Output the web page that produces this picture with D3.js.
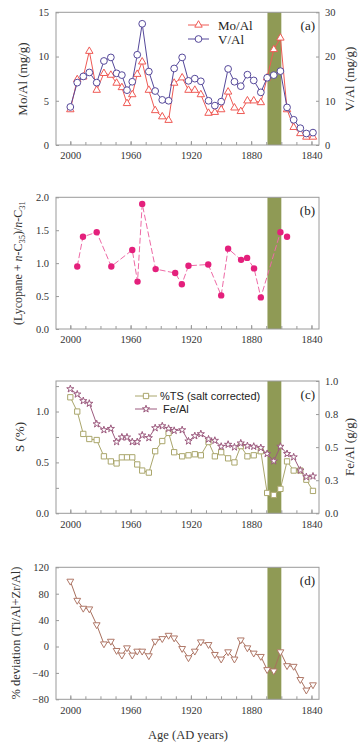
<!DOCTYPE html>
<html><head><meta charset="utf-8">
<script src="https://cdn.jsdelivr.net/npm/d3@7"></script>
<style>
html,body{margin:0;padding:0;background:#fff;}
svg{display:block;}
</style></head>
<body><svg id="c" width="361" height="746"></svg>
<script>
// ---------- DATA ----------
const ageYears = [2000,1995.4,1991.4,1987.4,1982.5,1977.7,1973.1,1969.3,1965.8,1962.4,1958.9,1955.6,1952.3,1947.9,1943.7,1939.0,1934.8,1931.1,1925.8,1921.6,1917.4,1913.4,1908.3,1904.1,1899.9,1895.3,1891.1,1886.9,1882.5,1878.3,1873.6,1869.4,1865.0,1860.6,1856.2,1851.8,1847.4,1843.4,1839.0];
const moAl = [4.0,7.4,7.7,10.6,6.2,8.1,7.9,7.0,6.5,4.7,5.7,8.0,9.4,6.2,3.9,3.2,2.8,7.0,7.6,6.2,6.2,5.7,3.6,3.7,4.0,6.0,4.2,3.8,5.0,5.0,4.8,7.6,10.8,12.1,4.0,2.0,1.3,0.9,0.9];
const vAl = [8.6,14.1,15.5,16.4,14.1,19.0,19.8,16.2,15.8,12.4,14.3,20.4,27.4,16.6,12.2,10.2,10.0,17.3,19.8,14.5,15.0,14.4,10.0,8.9,9.8,17.2,14.3,13.3,15.9,14.6,11.9,15.2,15.8,16.7,8.5,5.7,3.8,2.6,2.8];
const lycYears = [1995.4,1991.6,1982.5,1972.8,1958.9,1955.4,1952.3,1943.4,1930.4,1926.0,1921.6,1908.5,1899.9,1895.3,1886.7,1882.7,1878.1,1873.6,1860.6,1856.2];
const lycRatio = [0.95,1.40,1.47,0.95,1.20,0.72,1.90,0.91,0.85,0.68,0.96,0.98,0.51,1.22,1.05,1.08,0.92,0.48,1.47,1.40];
const tsS = [1.14,1.00,0.78,0.73,0.72,0.56,0.51,0.49,0.55,0.55,0.55,0.48,0.42,0.40,0.61,0.71,0.79,0.60,0.56,0.57,0.58,0.57,0.70,0.56,0.60,0.54,0.50,0.66,0.56,0.57,0.61,0.20,0.18,0.24,0.51,0.42,0.42,0.33,0.22];
const feAl = [0.94,0.90,0.85,0.83,0.675,0.63,0.64,0.54,0.575,0.575,0.54,0.54,0.59,0.57,0.645,0.66,0.64,0.625,0.63,0.545,0.585,0.60,0.56,0.55,0.505,0.52,0.50,0.53,0.51,0.505,0.495,0.45,0.395,0.505,0.45,0.425,0.325,0.275,0.28];
const devTiZr = [99,70,58,57,33,4,8,-6,-13,-2,-13,-7,-7,-14,8,12,17,13,-3,-17,-7,7,3,-12,-19,-8,-19,10,-2,-10,-15,-35,-37,-8,-29,-30,-50,-66,-58];
const bandYears = [1869.2, 1860.0];
const xTickLabels = [2000,1960,1920,1880,1840];
const xMinorTicks = d3.range(1840, 2001, 10);
const ticksA = [0,5,10,15], ticksA2 = [0,10,20,30];
const ticksB = [0,0.5,1.0,1.5,2.0];
const ticksC = [0,0.25,0.5,0.75,1.0,1.25], ticksCLabels = [0,0.5,1.0];
const ticksC2 = [0,0.25,0.5,0.75,1.0], ticksC2Labels = ["0.0","0.3","0.5","0.8","1.0"];
const ticksD = [-80,-40,0,40,80,120];

// ---------- LAYOUT ----------
const svg = d3.select("#c");
const L = 56, R = 319;
const serif = "'Liberation Serif','Times New Roman',serif";
const sans = "'Liberation Sans',Arial,sans-serif";
const frameCol = "#9a9a9a", txtCol = "#333";
const bandCol = "#8f9a55";
const x = d3.scaleLinear().domain([2009.5, 1835]).range([L, R]);

function panel(top, bottom, yDom, y2Dom) {
  const g = svg.append("g");
  const y = d3.scaleLinear().domain(yDom).range([bottom, top]);
  const y2 = y2Dom ? d3.scaleLinear().domain(y2Dom).range([bottom, top]) : null;
  g.append("rect").attr("x", x(bandYears[0])).attr("y", top)
    .attr("width", x(bandYears[1]) - x(bandYears[0])).attr("height", bottom - top)
    .attr("fill", bandCol);
  const gx = g.append("g").attr("transform", `translate(0,${bottom})`);
  gx.call(d3.axisBottom(x).tickValues(xMinorTicks).tickSize(-3).tickFormat(""));
  const gx2 = g.append("g").attr("transform", `translate(0,${bottom})`);
  gx2.call(d3.axisBottom(x).tickValues(xTickLabels).tickSize(-4).tickPadding(7).tickFormat(d3.format("d")));
  [gx, gx2].forEach(a => {
    a.select(".domain").remove();
    a.selectAll("line").attr("stroke", frameCol);
    a.selectAll("text").attr("font-family", serif).attr("font-size", 10.5).attr("fill", txtCol);
  });
  return {g, y, y2, top, bottom};
}
function frame(p) {
  p.g.append("rect").attr("x", L).attr("y", p.top).attr("width", R - L).attr("height", p.bottom - p.top)
    .attr("fill", "none").attr("stroke", frameCol).attr("stroke-width", 1);
}
function leftAxis(p, vals, fmt, labelVals) {
  const a = p.g.append("g").attr("transform", `translate(${L},0)`)
    .call(d3.axisLeft(p.y).tickValues(vals).tickSize(-3).tickPadding(7)
      .tickFormat(d => (!labelVals || labelVals.includes(d)) ? fmt(d) : ""));
  a.select(".domain").remove();
  a.selectAll("line").attr("stroke", frameCol);
  a.selectAll("text").attr("font-family", serif).attr("font-size", 10.5).attr("fill", txtCol);
}
function rightAxis(p, vals, fmtArr) {
  const a = p.g.append("g").attr("transform", `translate(${R},0)`)
    .call(d3.axisRight(p.y2).tickValues(vals).tickSize(-3).tickPadding(6)
      .tickFormat((d, i) => fmtArr(d, i)));
  a.select(".domain").remove();
  a.selectAll("line").attr("stroke", frameCol);
  a.selectAll("text").attr("font-family", serif).attr("font-size", 10.5).attr("fill", txtCol);
}
function vlabel(xp, yp, text, size) {
  return svg.append("text").attr("transform", `translate(${xp},${yp}) rotate(-90)`)
    .attr("text-anchor", "middle").attr("font-family", serif).attr("font-size", size || 13)
    .attr("fill", txtCol).text(text);
}
function tag(p, text) {
  p.g.append("text").attr("x", R - 4).attr("y", p.top + 18).attr("text-anchor", "end")
    .attr("font-family", serif).attr("font-size", 13).attr("fill", "#222").text(text);
}
const tri = d3.symbol().type(d3.symbolTriangle).size(24);
const triD = d3.symbol().type(d3.symbolTriangle).size(20);
const circ = d3.symbol().type(d3.symbolCircle).size(36);
const sq = d3.symbol().type(d3.symbolSquare).size(28);
const star = d3.symbol().type(d3.symbolStar).size(16);
function series(p, xs, ys, yScale, color, lineColor, sym, rot, dash) {
  const pts = xs.map((d, i) => [x(d), yScale(ys[i])]);
  p.g.append("path").attr("d", d3.line()(pts)).attr("fill", "none")
    .attr("stroke", lineColor).attr("stroke-width", 1).attr("stroke-dasharray", dash || null);
  p.g.selectAll(null).data(pts).enter().append("path")
    .attr("d", sym).attr("transform", d => `translate(${d[0]},${d[1]}) rotate(${rot || 0})`)
    .attr("fill", "#fff").attr("stroke", color).attr("stroke-width", 1);
}

// ---------- PANEL A ----------
const pa = panel(12.3, 145, [0, 15], [0, 30]);
const moCol = "#ef5a55", vCol = "#55489a";
series(pa, ageYears, moAl, pa.y, moCol, moCol, tri, 0);
series(pa, ageYears, vAl, pa.y2, vCol, vCol, circ, 0);
frame(pa);
leftAxis(pa, ticksA, d3.format("d"));
rightAxis(pa, ticksA2, d3.format("d"));
vlabel(27, 79, "Mo/Al (mg/g)");
vlabel(354, 79, "V/Al (mg/g)");
tag(pa, "(a)");
[[moCol, tri, "Mo/Al", 25], [vCol, circ, "V/Al", 39]].forEach(([c, s, t, yy]) => {
  pa.g.append("line").attr("x1", 188).attr("x2", 209).attr("y1", yy).attr("y2", yy).attr("stroke", c);
  pa.g.append("path").attr("d", s).attr("transform", `translate(198.5,${yy})`).attr("fill", "#fff").attr("stroke", c);
  pa.g.append("text").attr("x", 218).attr("y", yy + 4.5).attr("font-family", serif).attr("font-size", 13)
    .attr("fill", "#222").text(t);
});

// ---------- PANEL B ----------
const pb = panel(197.3, 329, [0, 2]);
const lycCol = "#e4207c";
const lycPts = lycYears.map((d, i) => [x(d), pb.y(lycRatio[i])]);
pb.g.append("path").attr("d", d3.line()(lycPts.slice(0, lycPts.length - 1))).attr("fill", "none")
  .attr("stroke", "#ee6aa6").attr("stroke-width", 1).attr("stroke-dasharray", "6,2.5");
pb.g.selectAll(null).data(lycPts).enter().append("circle")
  .attr("cx", d => d[0]).attr("cy", d => d[1]).attr("r", 3.2).attr("fill", lycCol);
frame(pb);
leftAxis(pb, ticksB, d3.format(".1f"));
tag(pb, "(b)");
const lb = svg.append("text").attr("transform", `translate(22,263) rotate(-90)`)
  .attr("text-anchor", "middle").attr("font-family", serif).attr("font-size", 12).attr("fill", txtCol);
lb.append("tspan").text("(Lycopane + ");
lb.append("tspan").attr("font-style", "italic").text("n");
lb.append("tspan").text("-C");
lb.append("tspan").attr("font-size", 8.5).attr("dy", 3).text("35");
lb.append("tspan").attr("dy", -3).text(")/");
lb.append("tspan").attr("font-style", "italic").text("n");
lb.append("tspan").text("-C");
lb.append("tspan").attr("font-size", 8.5).attr("dy", 3).text("31");

// ---------- PANEL C ----------
const pc = panel(381, 513.3, [0, 1.3], [0, 1.0]);
const tsCol = "#aaa66c", feCol = "#9c5a7e";
series(pc, ageYears, tsS, pc.y, tsCol, tsCol, sq, 0);
series(pc, ageYears, feAl, pc.y2, feCol, feCol, star, 0);
frame(pc);
leftAxis(pc, ticksC, d3.format(".1f"), ticksCLabels);
rightAxis(pc, ticksC2, (d, i) => ticksC2Labels[i]);
vlabel(24, 437, "S (%)");
vlabel(354, 447, "Fe/Al (g/g)");
tag(pc, "(c)");
[[tsCol, sq, "%TS (salt corrected)", 396], [feCol, star, " Fe/Al", 409]].forEach(([c, s, t, yy]) => {
  pc.g.append("line").attr("x1", 135).attr("x2", 157).attr("y1", yy).attr("y2", yy).attr("stroke", c);
  pc.g.append("path").attr("d", s).attr("transform", `translate(146,${yy})`).attr("fill", "#fff").attr("stroke", c);
  pc.g.append("text").attr("x", 160).attr("y", yy + 4).attr("font-family", sans).attr("font-size", 11)
    .attr("fill", "#222").style("white-space", "pre").text(t);
});

// ---------- PANEL D ----------
const pd = panel(567.3, 699.3, [-80, 120]);
const dCol = "#a8705e";
series(pd, ageYears, devTiZr, pd.y, "#b07868", dCol, triD, 180);
frame(pd);
leftAxis(pd, ticksD, d3.format("d"));
tag(pd, "(d)");
vlabel(20, 633, "% deviation (Ti/Al+Zr/Al)", 12.5);
svg.append("text").attr("x", 188).attr("y", 739).attr("text-anchor", "middle")
  .attr("font-family", serif).attr("font-size", 12.5).attr("fill", txtCol).text("Age (AD years)");
</script></body></html>
